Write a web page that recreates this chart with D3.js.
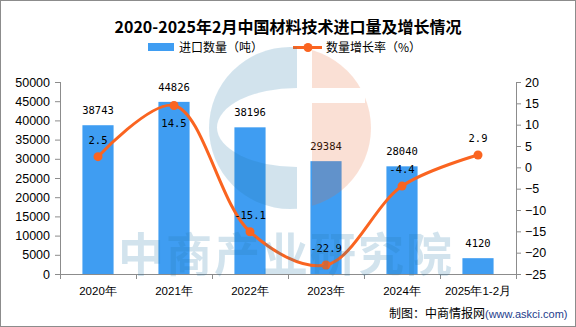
<!DOCTYPE html>
<html>
<head>
<meta charset="utf-8">
<script src="https://cdn.jsdelivr.net/npm/d3@7"></script>
<style>
  body { margin: 0; background: #fff; }
</style>
</head>
<body>
<div id="container"></div>
<script>
/* DATA */
const categories = ["2020年", "2021年", "2022年", "2023年", "2024年", "2025年1-2月"];
const volume = [38743, 44826, 38196, 29384, 28040, 4120];
const growth = [2.5, 14.5, -15.1, -22.9, -4.4, 2.9];
const leftTicks = [0, 5000, 10000, 15000, 20000, 25000, 30000, 35000, 40000, 45000, 50000];
const rightTicks = [-25, -20, -15, -10, -5, 0, 5, 10, 15, 20];

/* CONSTANTS */
const width = 576, height = 327;
const margin = { top: 82, right: 60, bottom: 53, left: 60 };
const barColor = "#3f9df2", lineColor = "#fa6420", axisColor = "#8c8c8c";
const cjkFont = "'Noto Sans CJK SC', sans-serif";
const numFont = "'Liberation Sans', Arial, sans-serif";
const monoFont = "'DejaVu Sans Mono', monospace";

const svg = d3.select("#container")
  .append("svg")
  .attr("width", width)
  .attr("height", height)
  .attr("font-family", cjkFont);

// outer frame
svg.append("rect")
  .attr("x", 0.5).attr("y", 0.5)
  .attr("width", width - 1).attr("height", height - 1)
  .attr("fill", "#fff").attr("stroke", axisColor);

// title
svg.append("text")
  .attr("x", width / 2).attr("y", 33)
  .attr("text-anchor", "middle")
  .attr("font-size", 16).attr("font-weight", 700)
  .text("2020-2025年2月中国材料技术进口量及增长情况");

// legend
const legend = svg.append("g");
legend.append("rect").attr("x", 148).attr("y", 43).attr("width", 26).attr("height", 8).attr("fill", barColor);
legend.append("text").attr("x", 179).attr("y", 52).attr("font-size", 12).text("进口数量（吨）");
legend.append("line").attr("x1", 293).attr("x2", 322).attr("y1", 47.5).attr("y2", 47.5)
  .attr("stroke", lineColor).attr("stroke-width", 3);
legend.append("circle").attr("cx", 308).attr("cy", 47.5).attr("r", 4.5).attr("fill", lineColor);
legend.append("text").attr("x", 326).attr("y", 52).attr("font-size", 12).text("数量增长率（%）");

/* SCALES */
const x = d3.scaleBand()
  .domain(categories)
  .range([margin.left, width - margin.right])
  .paddingInner(0.59).paddingOuter(0.295);

const xBound = d3.scaleLinear().domain([0, categories.length]).range([margin.left, width - margin.right]);

const yLeft = d3.scaleLinear()
  .domain([0, 50000])
  .range([height - margin.bottom, margin.top]);

const yRight = d3.scaleLinear()
  .domain([-25, 20])
  .range([height - margin.bottom, margin.top]);

const cx = d => x(d) + x.bandwidth() / 2;

/* AXES */
const gl = svg.append("g")
  .attr("transform", `translate(${margin.left},0)`)
  .call(d3.axisLeft(yLeft).tickValues(leftTicks).tickSize(5).tickPadding(5).tickFormat(d3.format("d")));
const gr = svg.append("g")
  .attr("transform", `translate(${width - margin.right},0)`)
  .call(d3.axisRight(yRight).tickValues(rightTicks).tickSize(5).tickPadding(4)
    .tickFormat(d => d < 0 ? "\u2212" + Math.abs(d) : d));
[gl, gr].forEach(g => {
  g.attr("font-family", numFont).attr("font-size", 12.5);
  g.select(".domain").remove();
  g.selectAll(".tick line").attr("stroke", axisColor);
  g.selectAll(".tick text").attr("fill", "#000");
});
svg.append("line").attr("x1", margin.left + 0.5).attr("x2", margin.left + 0.5)
  .attr("y1", margin.top).attr("y2", height - margin.bottom + 5).attr("stroke", axisColor);
svg.append("line").attr("x1", width - margin.right + 0.5).attr("x2", width - margin.right + 0.5)
  .attr("y1", margin.top).attr("y2", height - margin.bottom + 5).attr("stroke", axisColor);

// x axis with boundary ticks
const gx = svg.append("g").attr("transform", `translate(0,${height - margin.bottom})`);
gx.append("line").attr("x1", margin.left).attr("x2", width - margin.right)
  .attr("y1", 0.5).attr("y2", 0.5).attr("stroke", axisColor);
gx.selectAll(".bt")
  .data(d3.range(1, categories.length))
  .enter().append("line")
  .attr("x1", d => Math.round(xBound(d)) + 0.5).attr("x2", d => Math.round(xBound(d)) + 0.5)
  .attr("y1", 0).attr("y2", 5).attr("stroke", axisColor);
gx.selectAll(".xl")
  .data(categories)
  .enter().append("text")
  .attr("x", d => cx(d)).attr("y", 21)
  .attr("text-anchor", "middle")
  .attr("font-family", numFont)
  .attr("font-size", 11.5)
  .text(d => d);

/* BARS */
svg.selectAll(".bar")
  .data(volume)
  .enter().append("rect")
  .attr("x", (d, i) => x(categories[i]))
  .attr("y", d => yLeft(d))
  .attr("width", x.bandwidth())
  .attr("height", d => yLeft(0) - yLeft(d))
  .attr("fill", barColor);

svg.selectAll(".barLabel")
  .data(volume)
  .enter().append("text")
  .attr("x", (d, i) => cx(categories[i]))
  .attr("y", d => yLeft(d) - 11)
  .attr("text-anchor", "middle")
  .attr("font-family", monoFont).attr("font-size", 10.5)
  .text(d => d);

/* LINE */
const line = d3.line()
  .x((d, i) => cx(categories[i]))
  .y(d => yRight(d))
  .curve(d3.curveCatmullRom.alpha(0.5));

svg.append("path")
  .datum(growth)
  .attr("d", line)
  .attr("fill", "none")
  .attr("stroke", lineColor)
  .attr("stroke-width", 3);

svg.selectAll(".pt")
  .data(growth)
  .enter().append("circle")
  .attr("cx", (d, i) => cx(categories[i]))
  .attr("cy", d => yRight(d))
  .attr("r", 4.5)
  .attr("fill", lineColor);

const gMax = d3.max(growth);
svg.selectAll(".ptLabel")
  .data(growth)
  .enter().append("text")
  .attr("x", (d, i) => cx(categories[i]))
  .attr("y", d => d === gMax ? yRight(d) + 22 : yRight(d) - 13)
  .attr("text-anchor", "middle")
  .attr("font-family", monoFont).attr("font-size", 10.5)
  .text(d => d < 0 ? "-" + Math.abs(d) : d);

/* WATERMARK */
const defs = svg.append("defs");
const mBlue = defs.append("mask").attr("id", "mBlue");
mBlue.append("circle").attr("cx", 290).attr("cy", 128).attr("r", 81).attr("fill", "#fff");
mBlue.append("ellipse").attr("cx", 297).attr("cy", 127.5).attr("rx", 80).attr("ry", 39.5).attr("fill", "#000");
mBlue.append("rect").attr("x", 297).attr("y", 0).attr("width", 300).attr("height", 327).attr("fill", "#000");
const mOr = defs.append("mask").attr("id", "mOr");
mOr.append("circle").attr("cx", 290).attr("cy", 128).attr("r", 81).attr("fill", "#fff");
mOr.append("rect").attr("x", 0).attr("y", 0).attr("width", 312).attr("height", 327).attr("fill", "#000");
mOr.append("rect").attr("x", 312).attr("y", 88).attr("width", 53).attr("height", 15).attr("fill", "#000");

const wm = svg.append("g").attr("opacity", 0.2).style("pointer-events", "none");
wm.append("rect").attr("x", 0).attr("y", 0).attr("width", width).attr("height", height)
  .attr("fill", "rgb(35,120,170)").attr("mask", "url(#mBlue)");
wm.append("rect").attr("x", 0).attr("y", 0).attr("width", width).attr("height", height)
  .attr("fill", "rgb(235,105,50)").attr("mask", "url(#mOr)");
wm.append("text")
  .attr("x", 286).attr("y", 271)
  .attr("text-anchor", "middle")
  .attr("font-size", 46).attr("font-weight", 700)
  .attr("letter-spacing", 2)
  .attr("fill", "rgb(35,120,170)")
  .text("中商产业研究院");

/* CREDIT */
const credit = svg.append("text").attr("x", 389).attr("y", 318).attr("font-size", 12);
credit.append("tspan").text("制图：中商情报网");
credit.append("tspan").attr("font-family", numFont).attr("font-size", 11).attr("fill", "#1e3c8c")
  .text("(www.askci.com)");
</script>
</body>
</html>
